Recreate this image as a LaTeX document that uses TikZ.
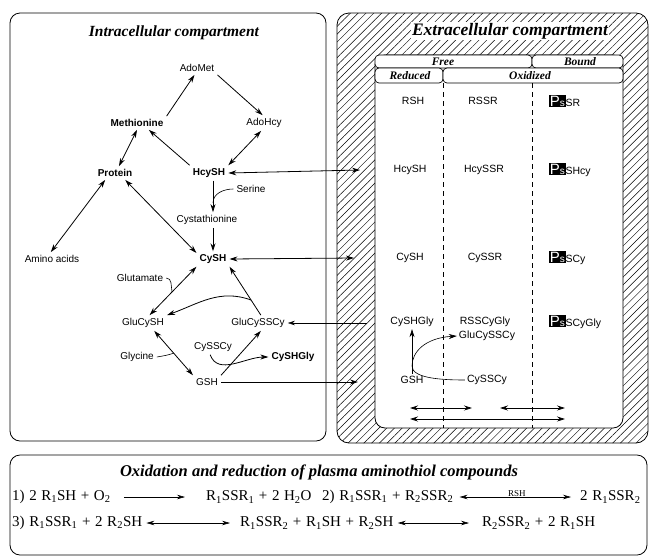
\documentclass[tikz,border=0pt]{standalone}
\usepackage{fontspec}
\setmainfont{Liberation Serif}
\setsansfont{Liberation Sans}
\usetikzlibrary{arrows.meta,patterns.meta,calc}
\newcommand\ssb[1]{\textsubscript{#1}}
\newcommand\psbx{{\setlength{\fboxsep}{0.7pt}\colorbox{black}{\textcolor{white}{\fontsize{15}{15}\selectfont P\fontsize{10}{10}\selectfont s}}}}
\newcommand\eqfont{\fontsize{15}{16}\selectfont\spaceskip=4.6pt plus 1pt minus 0.5pt\relax}
\begin{document}
\begin{tikzpicture}[x=1pt,y=-1pt,
  lab/.style={font=\sffamily\fontsize{10}{11}\selectfont, inner sep=3pt},
  blab/.style={font=\sffamily\bfseries\fontsize{10}{11}\selectfont, inner sep=3pt},
  rlab/.style={font=\sffamily\fontsize{10.5}{11}\selectfont, inner sep=2pt},
  ttl/.style={font=\bfseries\itshape\fontsize{15.5}{16}\selectfont},
  tab/.style={draw, rounded corners=4pt, line width=0.7pt, fill=white},
  tabt/.style={font=\bfseries\itshape\fontsize{11.5}{12}\selectfont, inner sep=0pt},
  arr/.style={-{Stealth[length=8pt,width=5pt]}, line width=0.8pt},
  darr/.style={{Stealth[length=8pt,width=5pt]}-{Stealth[length=8pt,width=5pt]}, line width=0.8pt},
  earr/.style={-{Stealth[length=8pt,width=4.5pt]}, line width=0.6pt},
  edarr/.style={{Stealth[length=8pt,width=4.5pt]}-{Stealth[length=8pt,width=4.5pt]}, line width=0.6pt},
  eq/.style={font=\eqfont, anchor=west, inner sep=0pt},
  box/.style={draw, line width=0.8pt, rounded corners=10pt}]
\useasboundingbox (0,0) rectangle (651,558);

% ---------- left compartment
\draw[box] (10,13) rectangle (326,441);
\node[ttl] (intra) at (174,33) {Intracellular compartment};

% ---------- right compartment
\path[pattern={Lines[angle=45,distance=5.5pt,line width=0.5pt]}, rounded corners=12pt] (337,13) rectangle (648,443);
\draw[box, rounded corners=12pt] (337,13) rectangle (648,443);
\draw[fill=white, line width=0.8pt, rounded corners=10pt] (375,55) rectangle (623,428);
\node[ttl, fill=white, inner sep=1pt, font=\bfseries\itshape\fontsize{17.5}{18}\selectfont] (extra) at (510,31) {Extracellular compartment};

\draw[tab] (375,55) rectangle (532,68);
\draw[tab] (532,55) rectangle (623,68);
\draw[tab] (375,68) rectangle (443,83);
\draw[tab] (443,68) rectangle (623,83);
\node[tabt] (free) at (443,61.5) {Free};
\node[tabt] (bound) at (580,61.5) {Bound};
\node[tabt] (reduced) at (410,75.5) {Reduced};
\node[tabt] (oxid) at (530,75.5) {Oxidized};
\draw[dash pattern=on 5pt off 4pt, line width=0.7pt] (443,83) -- (443,428);
\draw[dash pattern=on 5pt off 4pt, line width=0.7pt] (532,83) -- (532,428);

\node[rlab] (rsh) at (413,101) {RSH};
\node[rlab] (rssr) at (483,101) {RSSR};
\node[rlab, anchor=west] (psr) at (547,101) {\psbx SR};
\node[rlab] (hcysh2) at (410,170) {HcySH};
\node[rlab] (hcyssr) at (484,170) {HcySSR};
\node[rlab, anchor=west] (pshcy) at (547,170) {\psbx SHcy};
\node[rlab] (cysh2) at (410,258) {CySH};
\node[rlab] (cyssr) at (485,258) {CySSR};
\node[rlab, anchor=west] (pscy) at (547,258) {\psbx SCy};
\node[rlab] (cyshgly2) at (412,322) {CySHGly};
\node[rlab] (rsscygly) at (485,322) {RSSCyGly};
\node[rlab, anchor=west] (pscygly) at (547,322) {\psbx SCyGly};
\node[rlab] (glucysscy2) at (487,336) {GluCySSCy};
\node[rlab] (gsh2) at (412,380) {GSH};
\node[rlab] (cysscy2) at (487,380) {CySSCy};

\draw[arr] (gsh2.north) -- (cyshgly2.south);
\coordinate (jn) at (412,366);
\draw[arr, line width=0.6pt] (cysscy2.west) .. controls (440,380) and (412,378) .. (jn) .. controls (412,352) and (425,338) .. (glucysscy2.west);

\coordinate (b1a) at (410,408); \coordinate (b1b) at (472,408);
\coordinate (b2a) at (500,408); \coordinate (b2b) at (565,408);
\coordinate (b3a) at (410,419); \coordinate (b3b) at (565,419);
\draw[darr] (b1a) -- (b1b);
\draw[darr] (b2a) -- (b2b);
\draw[darr] (b3a) -- (b3b);

% ---------- left nodes
\node[lab] (AdoMet) at (197,68) {AdoMet};
\node[blab] (Methionine) at (137,123) {Methionine};
\node[lab] (AdoHcy) at (264,123) {AdoHcy};
\node[blab] (Protein) at (115,173) {Protein};
\node[blab] (HcySH) at (209,173) {HcySH};
\node[lab] (Serine) at (251,189) {Serine};
\node[lab] (Cysta) at (207,220) {Cystathionine};
\node[lab] (Amino) at (52,259) {Amino acids};
\node[blab] (CySH) at (213,259) {CySH};
\node[lab] (Glutamate) at (140,278) {Glutamate};
\node[lab] (GluCySH) at (143,323) {GluCySH};
\node[lab] (GluCySSCy) at (258,323) {GluCySSCy};
\node[lab] (CySSCy) at (213,347) {CySSCy};
\node[lab] (Glycine) at (137,357) {Glycine};
\node[blab] (CySHGly) at (293,357) {CySHGly};
\node[lab] (GSH) at (207,382) {GSH};

\draw[arr] (Methionine.north east) -- (AdoMet.250);
\draw[arr] (AdoMet.south east) -- (AdoHcy.100);
\draw[darr] (HcySH.north east) -- (AdoHcy.250);
\draw[darr] (Methionine.south) -- (Protein.60);
\draw[arr] (HcySH.north west) -- (Methionine.-30);
\draw[darr] (Protein.215) -- (Amino.100);
\draw[darr] (Protein.-34) -- (CySH.160);
\draw[arr] (HcySH.south -| CySH) -- (Cysta.north -| CySH);
\draw[arr] (Cysta.south -| CySH) -- (CySH.north);
\coordinate (sj) at (213,203);
\draw[line width=0.6pt] (Serine.west) to[out=180,in=90] (sj);
\draw[darr] (CySH.south west) -- (GluCySH.50);
\coordinate (gj) at (172,292);
\draw[line width=0.6pt] (Glutamate.east) to[out=0,in=100] (gj);
\draw[arr] (GluCySSCy.70) -- (CySH.south east);
\coordinate (aj) at (251,300);
\draw[arr] (aj) to[out=160,in=20] (GluCySH.north east);
\draw[darr] (GluCySH.-35) -- (GSH.north west);
\coordinate (yj) at (174,353);
\draw[line width=0.6pt] (Glycine.east) to[out=10,in=200] (yj);
\draw[arr] (GSH.north east) -- (GluCySSCy.-70);
\draw[arr] (CySSCy.250) to[out=-70,in=180] (CySHGly.west);

% ---------- cross-compartment
\coordinate (hj) at (360,170);
\coordinate (cj) at (354,258);
\coordinate (glj) at (367,323);
\coordinate (gsj) at (358,382);
\draw[darr] (HcySH.east) -- (hj);
\draw[darr] (CySH.east) -- (cj);
\draw[-{Stealth[length=7pt,width=4.5pt]}, line width=0.4pt] (glj) -- (GluCySSCy.east);
\draw[arr] (GSH.east) -- (gsj);

% ---------- bottom box
\draw[box] (10,455) rectangle (647,555);
\node[ttl, font=\bfseries\itshape\fontsize{16.5}{17}\selectfont] (oxtitle) at (319,472) {Oxidation and reduction of plasma aminothiol compounds};
\node[eq] (e1a) at (12,497) {1) 2 R\ssb{1}SH + O\ssb{2}};
\node[eq] (e1b) at (206,497) {R\ssb{1}SSR\ssb{1} + 2 H\ssb{2}O};
\node[eq] (e2a) at (322,497) {2) R\ssb{1}SSR\ssb{1} + R\ssb{2}SSR\ssb{2}};
\node[eq] (e2b) at (580,497) {2 R\ssb{1}SSR\ssb{2}};
\draw[earr, shorten <=13pt, shorten >=21pt] (e1a.east) -- (e1b.west);
\draw[edarr, shorten <=6pt, shorten >=9pt] (e2a.east) -- (e2b.west) node[midway, above=-1pt, font=\fontsize{9}{9}\selectfont, inner sep=1pt] (rshlab) {RSH};
\node[eq] (e3a) at (12,523) {3) R\ssb{1}SSR\ssb{1} + 2 R\ssb{2}SH};
\node[eq] (e3b) at (240,523) {R\ssb{1}SSR\ssb{2} + R\ssb{1}SH + R\ssb{2}SH};
\node[eq] (e3c) at (482,523) {R\ssb{2}SSR\ssb{2} + 2 R\ssb{1}SH};
\draw[edarr, shorten <=4pt, shorten >=10pt] (e3a.east) -- (e3b.west);
\draw[edarr, shorten <=4pt, shorten >=13pt] (e3b.east) -- (e3c.west);
\end{tikzpicture}
\end{document}
